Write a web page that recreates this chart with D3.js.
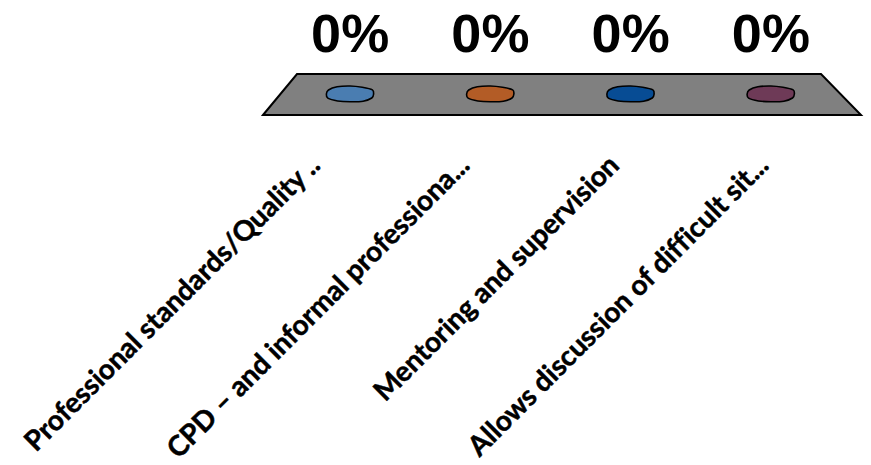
<!DOCTYPE html>
<html><head><meta charset="utf-8">
<script src="https://cdn.jsdelivr.net/npm/d3@7"></script>
<style>html,body{margin:0;padding:0;background:#fff;}svg{display:block;}</style>
</head><body>
<svg id="chart" width="871" height="465"></svg>
<script>
const categories = [
  "Professional standards/Quality ..",
  "CPD \u2013 and informal professiona...",
  "Mentoring and supervision",
  "Allows discussion of difficult sit..."
];
const values = [0, 0, 0, 0];
const colors = ["#4a7db1", "#b35c26", "#074c94", "#6e3a57"];

const svg = d3.select("#chart");
const floorBackY = 74, floorFrontY = 115, floorMidY = 94;
const xBack = d3.scaleBand().domain(categories).range([297, 821]);
const xMid = d3.scaleBand().domain(categories).range([280, 841]);
const xFront = d3.scaleBand().domain(categories).range([263, 861]);
const fmt = d3.format(".0%");

// floor
const [b0, b1] = xBack.range(), [f0, f1] = xFront.range();
svg.append("path")
  .attr("d", d3.line()([[f0, floorFrontY], [b0, floorBackY], [b1, floorBackY], [f1, floorFrontY]]) + "Z")
  .attr("fill", "#808080").attr("stroke", "#000").attr("stroke-width", 2).attr("stroke-linejoin", "miter");

// zero-height bars (flat blobs)
const wob = [1, 0.97, 1.03, 0.94, 1.0, 1.04, 0.97, 1.0, 1.03, 0.95, 1.0, 1.04];
categories.forEach((c, i) => {
  const cx = xMid(c) + xMid.bandwidth() / 2;
  const rx = 25, ry = 8;
  const pts = wob.map((w, k) => {
    const a = k / wob.length * 2 * Math.PI;
    return [Math.sin(a) * rx * w, -Math.cos(a) * ry * w];
  });
  svg.append("path")
    .attr("d", d3.line().curve(d3.curveCardinalClosed.tension(0.3))(pts))
    .attr("transform", `translate(${cx},${floorMidY})`)
    .attr("fill", colors[i]).attr("stroke", "#000").attr("stroke-width", 1.6);
});

// value labels
svg.selectAll("text.val").data(categories).join("text")
  .attr("class", "val")
  .attr("x", c => xMid(c) + xMid.bandwidth() / 2)
  .attr("y", 52)
  .attr("text-anchor", "middle")
  .attr("font-family", "'Liberation Sans', Arial, sans-serif")
  .attr("font-weight", "bold").attr("font-size", 54)
  .text((c, i) => fmt(values[i]));

// category labels
svg.selectAll("text.cat").data(categories).join("text")
  .attr("class", "cat")
  .attr("transform", c => `translate(${xFront(c) + xFront.bandwidth() / 2 - 16},167) rotate(-45)`)
  .attr("text-anchor", "end")
  .attr("font-family", "Lato, sans-serif")
  .style("font-variant-ligatures", "none")
  .attr("font-weight", "bold").attr("font-size", 28)
  .attr("stroke", "#000").attr("stroke-width", 0.5)
  .text(c => c);
</script>
</body></html>
